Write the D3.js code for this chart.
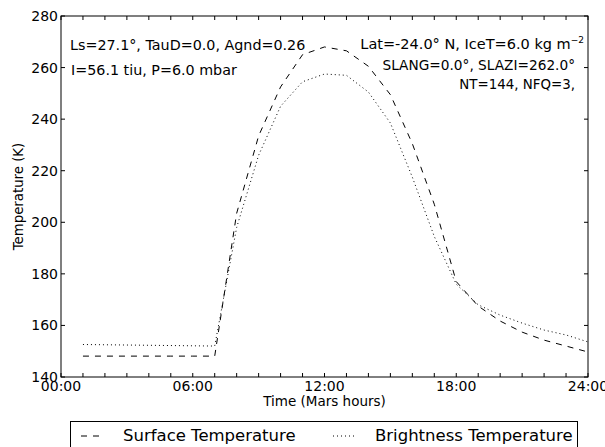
<!DOCTYPE html>
<html><head><meta charset="utf-8">
<script src="https://cdn.jsdelivr.net/npm/d3@7"></script>
<style>body{margin:0;background:#fff;} text{font-family:"DejaVu Sans",sans-serif;fill:#000;}</style>
</head><body>
<svg id="c" width="605" height="447"></svg>
<script>
const hours = [1,2,3,4,5,6,7,8,9,10,11,12,13,14,15,16,17,18,19,20,21,22,23,24];
const surfaceTemp = [148.1,148.1,148.1,148.1,148.1,148.1,148.1,203.5,233.5,252.5,265,268,266.5,260.5,249.5,230.5,207,177,167.5,161.7,157.4,154.3,152,149.7];
const brightnessTemp = [152.6,152.5,152.4,152.3,152.2,152.1,152.0,198,226,245,254.5,257.5,257,250.5,238.5,217.5,194.5,176,168,164,160.9,158.2,156.3,153.6];
const xTickValues = [0,6,12,18,24];
const xTickLabels = ["00:00","06:00","12:00","18:00","24:00"];
const yTickValues = [140,160,180,200,220,240,260,280];
const seriesNames = ["Surface Temperature","Brightness Temperature"];
const annotLeft = ["Ls=27.1°, TauD=0.0, Agnd=0.26","I=56.1 tiu, P=6.0 mbar"];
const annotRight = ["SLANG=0.0°, SLAZI=262.0°","NT=144, NFQ=3,"];

const svg = d3.select("#c");
const L=61, R=588, T=16, B=377;
const x = d3.scaleLinear().domain([0,24]).range([L,R]);
const y = d3.scaleLinear().domain([140,280]).range([B,T]);

// frame
svg.append("rect").attr("x",L).attr("y",T).attr("width",R-L).attr("height",B-T)
  .attr("fill","none").attr("stroke","#000").attr("stroke-width",1);

// ticks
const hourTicks = d3.range(0,25);
const g = svg.append("g").attr("stroke","#000").attr("stroke-width",1);
hourTicks.forEach(h=>{
  g.append("line").attr("x1",x(h)).attr("x2",x(h)).attr("y1",B).attr("y2",B-4);
  g.append("line").attr("x1",x(h)).attr("x2",x(h)).attr("y1",T).attr("y2",T+4);
});
yTickValues.forEach(v=>{
  g.append("line").attr("x1",L).attr("x2",L+4).attr("y1",y(v)).attr("y2",y(v));
  g.append("line").attr("x1",R).attr("x2",R-4).attr("y1",y(v)).attr("y2",y(v));
});
xTickValues.forEach((v,i)=>{
  svg.append("text").attr("x",x(v)).attr("y",B+14).attr("text-anchor","middle")
    .attr("font-size",14).text(xTickLabels[i]);
});
yTickValues.forEach(v=>{
  svg.append("text").attr("x",L-3).attr("y",y(v)+5).attr("text-anchor","end")
    .attr("font-size",14).text(v);
});
svg.append("text").attr("x",(L+R)/2).attr("y",406).attr("text-anchor","middle")
  .attr("font-size",13.5).text("Time (Mars hours)");
svg.append("text").attr("transform",`translate(23,${(T+B)/2}) rotate(-90)`)
  .attr("text-anchor","middle").attr("font-size",13.3).text("Temperature (K)");

// lines
const line = d3.line().x((d,i)=>x(hours[i])).y(d=>y(d));
svg.append("path").datum(surfaceTemp).attr("d",line).attr("fill","none")
  .attr("stroke","#000").attr("stroke-width",1).attr("stroke-dasharray","6,6");
svg.append("path").datum(brightnessTemp).attr("d",line).attr("fill","none")
  .attr("stroke","#000").attr("stroke-width",1).attr("stroke-dasharray","1,3");

// annotations
svg.append("text").attr("x",70).attr("y",50).attr("font-size",14.3).text(annotLeft[0]);
svg.append("text").attr("x",71).attr("y",75).attr("font-size",14.3).text(annotLeft[1]);
const t1 = svg.append("text").attr("x",584).attr("y",49).attr("text-anchor","end").attr("font-size",14.5);
t1.append("tspan").text("Lat=-24.0° N, IceT=6.0 kg m");
t1.append("tspan").attr("font-size",9).attr("dy",-6).text("−2");
svg.append("text").attr("x",575).attr("y",70).attr("text-anchor","end").attr("font-size",13.7).text(annotRight[0]);
svg.append("text").attr("x",575).attr("y",89).attr("text-anchor","end").attr("font-size",13.4).text(annotRight[1]);

// legend
svg.append("rect").attr("x",70.5).attr("y",421.5).attr("width",507).attr("height",40)
  .attr("fill","#fff").attr("stroke","#000").attr("stroke-width",1);
svg.append("line").attr("x1",81).attr("x2",103).attr("y1",436).attr("y2",436)
  .attr("stroke","#000").attr("stroke-dasharray","6,6");
svg.append("line").attr("x1",333).attr("x2",357).attr("y1",436).attr("y2",436)
  .attr("stroke","#000").attr("stroke-dasharray","1,3");
svg.append("text").attr("x",123).attr("y",441).attr("font-size",16.5).text(seriesNames[0]);
svg.append("text").attr("x",375).attr("y",441).attr("font-size",16.5).text(seriesNames[1]);
</script>
</body></html>
